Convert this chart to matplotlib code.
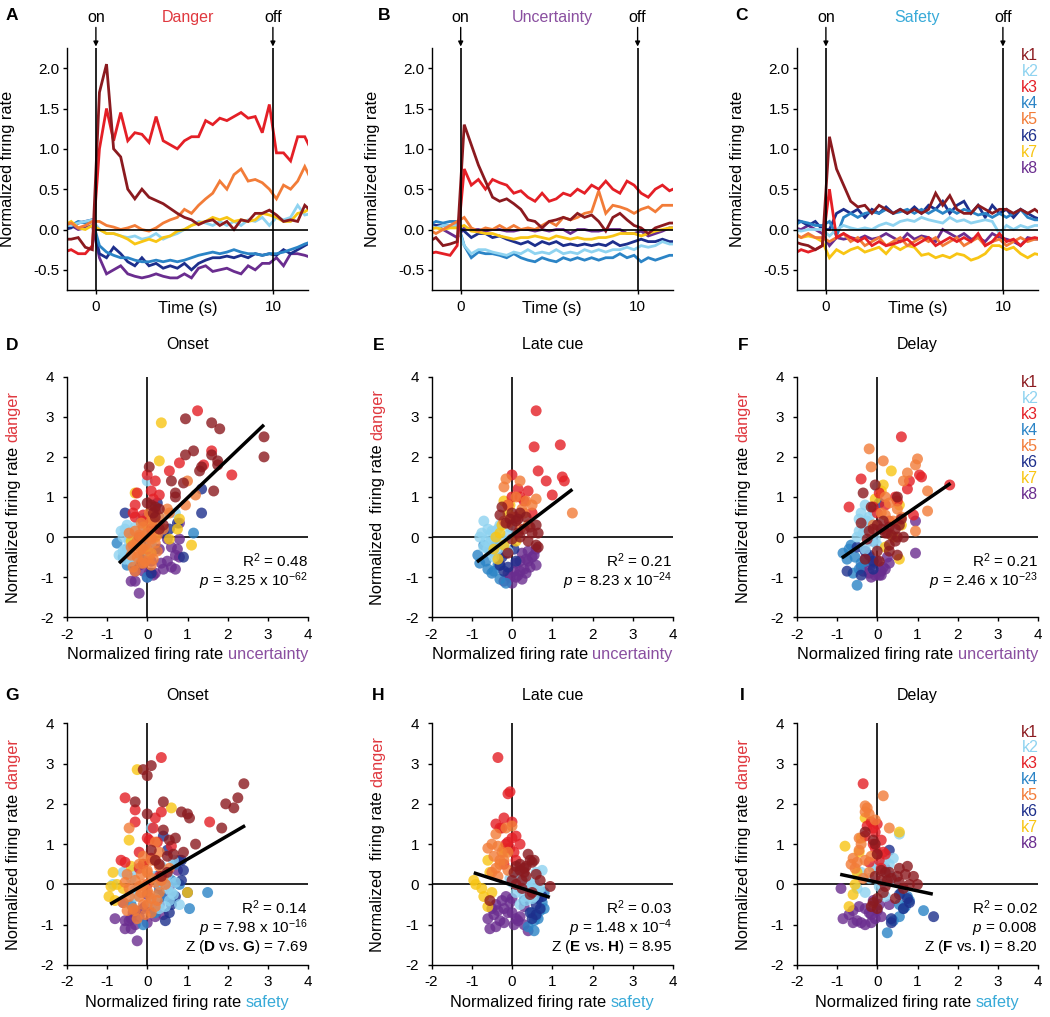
import numpy as np
import matplotlib
matplotlib.use("Agg")
import matplotlib.pyplot as plt
from matplotlib.ticker import FormatStrFormatter
from matplotlib.transforms import offset_copy

plt.rcParams["font.family"] = "Liberation Sans"
plt.rcParams["mathtext.fontset"] = "custom"
plt.rcParams["mathtext.rm"] = "Liberation Sans"
plt.rcParams["mathtext.it"] = "Liberation Sans:italic"
plt.rcParams["mathtext.bf"] = "Liberation Sans:bold"
plt.rcParams["mathtext.default"] = "regular"
plt.rcParams["axes.unicode_minus"] = False

FS_TICK = 11
FS_LAB = 11.8
FS_TXT = 11.5
FS_STAT = 11

# cluster names / colours
clusters = ["k1", "k2", "k3", "k4", "k5", "k6", "k7", "k8"]
colors = ["#8b1a1f", "#8fd3f0", "#e41f26", "#2b84c6", "#f27c38", "#1d2f8c", "#f8c514", "#6a2d8f"]
c_danger, c_unc, c_safe = "#e0383f", "#8a4fa0", "#38aad8"

# time bins (s) for the PSTH panels
time = np.round(np.arange(-1.8, 12.3, 0.4), 1)

# A: danger cue, normalized firing rate per cluster
danger_trace = [
    [-0.12,-0.12,-0.1,-0.22,-0.25,1.7, 2.05,1.0,0.9,0.5,0.38,0.5, 0.4,0.36,0.32,0.26,0.2,0.15, 0.12,0.06,0.1,0.12,0.05,0.1, 0.0,0.12,0.1,0.2,0.2,0.24, 0.18,0.1,0.12,0.1,0.3,0.22],
    [0.05,0.05,0.08,0.1,0.12,0.0, -0.05,-0.05,-0.08,-0.1,-0.08,-0.12, -0.1,-0.05,-0.12,-0.08,-0.05,0.0, 0.05,0.1,0.08,0.05,0.1,0.05, 0.1,0.05,0.12,0.1,0.15,0.05, 0.15,0.12,0.15,0.3,0.18,0.2],
    [-0.28,-0.25,-0.3,-0.3,-0.2,1.0, 1.5,1.1,1.45,1.1,1.2,1.18, 1.08,1.4,1.1,1.05,1.0,1.1, 1.15,1.15,1.35,1.3,1.38,1.35, 1.4,1.45,1.38,1.4,1.2,1.55, 0.95,0.95,0.85,1.15,1.15,0.97],
    [0.05,0.05,0.1,0.08,0.12,-0.2, -0.28,-0.32,-0.35,-0.35,-0.38,-0.4, -0.4,-0.38,-0.4,-0.38,-0.4,-0.38, -0.35,-0.32,-0.3,-0.28,-0.3,-0.28, -0.25,-0.28,-0.3,-0.3,-0.32,-0.3, -0.3,-0.28,-0.25,-0.22,-0.18,-0.15],
    [0.05,0.08,0.02,0.05,0.1,0.1, 0.05,0.03,0.0,0.02,0.05,0.0, -0.02,0.02,0.08,0.12,0.15,0.25, 0.2,0.3,0.38,0.45,0.6,0.5, 0.68,0.75,0.6,0.62,0.58,0.5, 0.38,0.55,0.5,0.6,0.78,0.6],
    [0.0,0.02,0.08,0.1,0.12,-0.3, -0.35,-0.22,-0.3,-0.4,-0.45,-0.35, -0.45,-0.42,-0.48,-0.45,-0.48,-0.42, -0.5,-0.42,-0.38,-0.35,-0.35,-0.33, -0.35,-0.32,-0.35,-0.3,-0.32,-0.3, -0.32,-0.25,-0.3,-0.25,-0.2,-0.15],
    [0.05,0.1,0.02,0.0,0.05,0.0, -0.05,-0.05,-0.08,-0.12,-0.18,-0.15, -0.12,-0.15,-0.1,-0.08,-0.02,0.0, 0.05,0.08,0.1,0.15,0.12,0.15, 0.1,0.12,0.1,0.12,0.2,0.18, 0.15,0.1,0.1,0.2,0.22,0.28],
    [-0.02,0.05,0.0,0.02,0.05,-0.35, -0.55,-0.5,-0.45,-0.55,-0.58,-0.6, -0.58,-0.55,-0.58,-0.6,-0.6,-0.55, -0.6,-0.48,-0.45,-0.52,-0.5,-0.48, -0.52,-0.55,-0.45,-0.5,-0.42,-0.42, -0.35,-0.45,-0.3,-0.3,-0.32,-0.35],
]

# B: uncertainty cue
uncertainty_trace = [
    [-0.15,-0.1,-0.2,-0.18,-0.15,1.3, 1.05,0.8,0.6,0.4,0.35,0.38, 0.32,0.25,0.12,0.1,0.02,0.1, 0.12,0.15,0.12,0.2,0.15,0.18, 0.1,-0.02,0.15,0.2,0.12,0.05, 0.02,-0.05,0.02,0.05,0.08,0.08],
    [0.05,0.02,0.05,0.05,0.05,-0.2, -0.3,-0.25,-0.25,-0.28,-0.3,-0.32, -0.28,-0.3,-0.25,-0.3,-0.28,-0.3, -0.25,-0.3,-0.28,-0.3,-0.25,-0.28, -0.25,-0.28,-0.25,-0.25,-0.22,-0.25, -0.2,-0.22,-0.2,-0.15,-0.18,-0.18],
    [-0.3,-0.28,-0.3,-0.32,-0.2,0.75, 0.55,0.62,0.5,0.62,0.58,0.55, 0.45,0.48,0.4,0.35,0.45,0.35, 0.38,0.45,0.42,0.5,0.45,0.55, 0.5,0.6,0.5,0.45,0.6,0.55, 0.45,0.4,0.5,0.55,0.48,0.52],
    [0.05,0.1,0.08,0.1,0.1,-0.2, -0.35,-0.28,-0.3,-0.3,-0.32,-0.35, -0.3,-0.35,-0.38,-0.4,-0.35,-0.38, -0.4,-0.35,-0.38,-0.35,-0.38,-0.35, -0.38,-0.35,-0.35,-0.3,-0.35,-0.32, -0.4,-0.35,-0.38,-0.35,-0.32,-0.32],
    [0.0,-0.05,0.0,0.05,0.1,0.15, 0.02,-0.02,0.02,0.0,0.05,0.0, 0.05,0.0,0.02,0.0,0.05,0.1, 0.05,0.15,0.12,0.15,0.2,0.22, 0.48,0.2,0.3,0.28,0.25,0.2, 0.25,0.28,0.22,0.3,0.3,0.3],
    [0.05,0.05,0.05,0.05,0.05,-0.02, -0.1,-0.05,-0.05,-0.1,-0.08,-0.12, -0.15,-0.18,-0.15,-0.2,-0.15,-0.18, -0.15,-0.2,-0.18,-0.2,-0.18,-0.2, -0.18,-0.2,-0.15,-0.2,-0.18,-0.15, -0.12,-0.15,-0.15,-0.12,-0.15,-0.15],
    [0.0,0.02,0.0,0.02,0.02,0.05, -0.02,-0.03,-0.05,-0.05,-0.08,-0.1, -0.12,-0.1,-0.1,-0.08,-0.1,-0.12, -0.08,-0.1,-0.12,-0.1,-0.12,-0.12, -0.1,-0.1,-0.08,-0.05,-0.05,-0.05, -0.08,-0.05,-0.02,0.0,0.02,0.02],
    [0.0,0.05,0.0,-0.05,-0.1,0.02, 0.0,0.0,-0.02,0.0,0.0,-0.02, -0.02,0.0,0.0,-0.02,0.0,-0.02, 0.0,0.0,-0.05,0.0,0.0,-0.02, -0.02,0.0,0.0,0.0,-0.05,-0.05, -0.02,-0.08,-0.05,-0.02,0.02,0.02],
]

# C: safety cue
safety_trace = [
    [-0.15,-0.18,-0.2,-0.25,-0.2,1.15, 0.75,0.55,0.35,0.28,0.3,0.2, 0.3,0.25,0.2,0.25,0.2,0.25, 0.2,0.25,0.45,0.3,0.42,0.25, 0.2,0.2,0.3,0.25,0.2,0.25, 0.25,0.2,0.25,0.2,0.25,0.18],
    [0.0,-0.02,0.0,0.0,0.0,-0.08, 0.0,0.05,0.02,0.0,0.02,0.0, 0.05,0.08,0.05,0.1,0.12,0.1, 0.15,0.12,0.1,0.08,0.15,0.1, 0.12,0.08,0.1,0.12,0.1,-0.05, 0.05,0.0,0.05,0.02,0.05,0.05],
    [-0.3,-0.25,-0.28,-0.25,-0.2,0.5, -0.1,-0.05,-0.1,-0.15,-0.1,-0.2, -0.15,-0.2,-0.18,-0.15,-0.12,-0.2, -0.15,-0.1,-0.2,-0.15,-0.1,-0.15, -0.1,-0.15,-0.05,-0.2,-0.15,-0.05, -0.15,-0.12,-0.2,-0.12,-0.1,-0.12],
    [0.05,0.1,0.08,0.05,0.05,0.1, -0.08,0.15,0.2,0.15,0.2,0.22, 0.2,0.25,0.2,0.22,0.25,0.2, 0.25,0.2,0.25,0.2,0.25,0.2, 0.25,0.22,0.18,0.2,0.15,0.2, 0.15,0.2,0.25,0.15,0.12,0.12],
    [-0.05,-0.1,-0.05,-0.1,-0.1,-0.15, -0.1,-0.05,-0.15,-0.1,-0.2,-0.15, -0.1,-0.2,-0.15,-0.1,-0.2,-0.15, -0.1,-0.15,-0.1,-0.2,-0.15,-0.1, -0.2,-0.15,-0.1,-0.2,-0.15,-0.12, -0.2,-0.15,-0.1,-0.15,-0.12,-0.12],
    [0.12,0.1,0.05,0.1,0.0,0.0, 0.2,0.25,0.2,0.25,0.15,0.25, 0.2,0.28,0.2,0.25,0.2,0.28, 0.2,0.3,0.25,0.35,0.2,0.3, 0.35,0.2,0.3,0.15,0.3,0.2, 0.25,0.15,0.25,0.2,0.15,0.12],
    [-0.05,-0.1,-0.08,-0.1,-0.15,-0.35, -0.25,-0.3,-0.25,-0.22,-0.28,-0.25, -0.22,-0.3,-0.2,-0.25,-0.2,-0.22, -0.32,-0.3,-0.35,-0.32,-0.35,-0.3, -0.32,-0.38,-0.35,-0.3,-0.2,-0.2, -0.25,-0.22,-0.3,-0.35,-0.3,-0.32],
    [0.02,0.0,0.05,0.0,-0.05,-0.2, -0.1,-0.12,-0.1,-0.12,-0.08,-0.12, -0.1,-0.05,-0.1,-0.15,-0.05,-0.12, -0.08,-0.1,-0.15,0.0,-0.05,-0.1, -0.05,-0.12,-0.1,-0.15,-0.05,-0.1, -0.12,-0.15,-0.2,-0.1,-0.12,-0.12],
]

# scatter data: per cluster, (danger, uncertainty, safety) normalized rate per neuron
onset_points = [
    [(2.95,0.95,0.1),(2.85,1.6,-0.1),(2.7,1.8,0.0),(2.5,2.9,2.4),(2.0,2.9,1.95),(2.15,1.15,2.25),(1.9,1.75,2.15),
     (2.05,0.95,0.4),(2.05,1.6,-0.3),(1.8,1.75,0.85),(1.75,0.05,1.0),(1.65,1.3,1.05),(1.75,1.35,0.0),(1.4,0.6,1.85),
     (1.35,0.9,0.4),(1.15,1.65,0.7),(1.1,0.7,0.55),(1.0,0.7,1.2),(0.85,0.0,0.1),(0.8,0.1,0.9),(0.75,0.2,0.65),
     (0.7,0.3,0.5),(0.5,0.2,0.3),(0.6,0.15,0.2),(0.3,0.4,0.5),(0.2,0.3,0.35)],
    [(1.4,0.0,0.1),(0.3,-0.5,-0.6),(0.25,-0.3,0.5),(0.0,-0.6,-0.85),(-0.1,-0.45,0.5),(-0.2,-0.2,0.6),(-0.3,-0.55,-0.3),
     (-0.45,-0.7,0.1),(-0.5,-0.35,0.8),(-0.6,-0.4,0.3),(0.1,-0.1,0.45),(0.5,0.3,-0.1),(0.6,0.7,0.65),(-0.15,0.1,-0.3),
     (0.15,-0.65,-0.4),(-0.4,0.05,0.55),(0.0,-0.25,0.3),(-0.25,-0.4,0.65),(0.45,-0.15,0.35),(-0.55,-0.55,0.45),
     (0.2,-0.55,0.15),(-0.35,-0.6,0.2),(0.35,-0.05,-0.35),(0.05,-0.45,0.7)],
    [(3.15,1.25,0.35),(2.15,1.6,-0.55),(1.55,2.1,1.55),(1.8,1.4,0.35),(1.85,0.8,-0.3),(1.65,0.55,0.2),(1.55,0.0,-0.3),
     (1.4,0.2,0.15),(1.15,0.1,0.0),(1.1,-0.25,0.05),(1.05,0.3,0.25),(0.95,0.15,0.6),(0.8,-0.3,-0.2),(0.6,-0.35,-0.65),
     (0.55,-0.1,-0.55),(0.5,-0.3,-0.1),(0.65,0.2,0.1),(0.4,-0.1,-0.2),(0.2,0.1,0.3),(0.0,-0.2,0.0)],
    [(-0.15,-0.75,0.3),(-0.5,-0.6,-0.4),(0.1,1.15,0.6),(-0.2,-0.3,1.5),(-0.7,-0.5,0.2),(0.0,-0.4,0.8),(0.3,0.2,0.45),
     (-0.4,-0.1,0.6),(-1.0,0.0,-0.1),(-0.3,-0.5,0.35),(0.5,0.0,0.7),(-0.6,-0.2,1.05)],
    [(1.4,1.0,-0.45),(1.05,1.2,0.2),(0.8,0.95,0.3),(0.6,0.55,0.1),(0.5,0.3,-0.2),(0.3,0.3,0.0),(0.2,0.4,0.4),
     (0.1,0.0,-0.3),(0.05,-0.2,0.2),(0.0,0.1,-0.1),(-0.1,-0.25,-0.45),(-0.15,0.2,0.0),(-0.2,-0.05,0.3),(-0.3,0.0,-0.2),
     (-0.35,0.25,0.1),(-0.45,-0.4,-0.6),(-0.5,0.05,-0.1),(-0.55,0.15,0.2),(-0.65,-0.1,-0.3),(-0.7,0.1,0.1),
     (-0.75,-0.35,-0.05),(-0.85,-0.3,-0.25),(0.4,0.1,0.55),(0.7,0.5,-0.1),(0.25,-0.1,-0.5),(-0.25,-0.4,0.05),
     (-0.6,-0.05,-0.35),(0.15,-0.3,0.1),(-0.05,0.1,-0.2),(0.35,-0.15,0.0),(-0.4,-0.2,0.25),(0.05,0.25,-0.55),
     (-0.2,-0.35,-0.15),(0.45,0.15,0.3),(-0.65,-0.15,-0.5),(0.6,0.05,0.2),(0.1,-0.45,0.35),(-0.3,-0.15,-0.45),
     (0.25,0.15,-0.15),(-0.5,-0.25,0.0),(0.0,-0.1,0.45)],
    [(1.2,1.35,0.4),(0.6,1.35,0.85),(0.6,-0.55,0.8),(0.85,0.25,0.5),(0.35,0.75,0.9),(-0.5,0.9,0.6),(0.1,0.4,0.85),
     (-0.3,0.2,0.7),(-0.7,-0.3,0.55),(-0.2,-0.1,1.0),(-0.9,0.1,0.45),(0.2,0.55,0.25)],
    [(2.85,0.35,-0.25),(1.9,0.3,0.6),(1.1,-0.3,-0.45),(-0.2,1.1,1.0),(0.2,0.75,0.35),(0.45,0.8,-0.4),(-0.05,0.55,-0.9),
     (0.3,0.0,-0.85),(-0.1,-0.4,-0.6),(0.0,0.2,-0.75),(-0.4,0.1,-0.8),(0.5,0.1,-0.1),(-0.3,-0.1,-0.95)],
    [(-1.1,-0.4,-0.55),(-1.4,-0.2,-0.25),(-1.0,0.0,-0.3),(-0.95,0.15,0.0),(-0.75,0.6,0.4),(-0.5,0.8,0.3),(-0.3,0.75,0.6),
     (-0.05,0.8,0.55),(0.35,0.8,0.75),(-0.05,0.5,0.3),(-0.45,0.7,-0.6),(-0.6,0.5,-0.1),(-0.85,-0.3,-0.4),(-0.85,-0.1,-0.8),
     (-0.9,0.2,-0.55),(-0.8,0.4,-0.2),(-0.6,0.1,0.1),(-0.3,0.3,0.5),(-0.7,-0.2,-0.35),(-0.25,0.6,0.0),
     (-0.9,0.05,-0.45),(-0.65,0.35,-0.3),(-0.8,0.7,0.2),(-0.55,-0.1,-0.05),(-1.1,-0.3,-0.4)],
]

late_points = [
    [(0.75,-0.25,0.4),(0.55,-0.3,0.5),(0.35,-0.15,0.2),(0.6,0.0,0.55),(0.4,0.1,0.3),(0.2,0.3,0.35),(0.1,0.5,0.0),
     (0.1,0.65,0.25),(-0.2,0.6,0.5),(-0.05,0.0,0.95),(0.6,0.2,0.45),(0.5,0.35,0.2),(0.3,0.0,0.05),(0.0,0.2,0.1),
     (-0.4,-0.1,-0.55),(0.25,0.45,0.6),(0.45,0.15,0.1),(-0.25,0.65,0.45),(0.3,0.6,0.3),(0.1,0.15,0.7),
     (-0.1,0.4,0.25),(0.45,-0.05,0.35)],
    [(0.1,-0.75,0.2),(0.2,-0.6,0.3),(0.0,-0.4,0.5),(-0.2,-0.2,0.1),(-0.4,-0.5,0.35),(0.3,-0.3,0.6),(-0.1,-0.65,0.7),
     (0.05,-0.1,0.0),(-0.3,-0.35,0.55),(0.15,-0.5,-0.05),(-0.05,-0.25,0.4),(-0.5,-0.45,0.2),(0.35,-0.2,0.75),
     (-0.25,-0.7,0.45),(0.25,-0.05,0.15),(-0.15,-0.55,0.65),(0.4,-0.7,0.3),(-0.35,-0.1,0.5),(0.0,-0.8,0.25),
     (-0.1,-0.45,0.2),(0.2,-0.35,0.1),(-0.3,-0.6,0.3),(0.05,-0.55,0.55)],
    [(3.15,0.6,-0.35),(2.25,0.55,-0.1),(2.3,1.2,-0.05),(1.65,0.65,-0.2),(1.5,1.25,-0.4),(1.4,1.3,-0.3),(1.4,0.85,-0.25),
     (1.05,1.0,-0.1),(1.15,0.4,0.0),(1.2,0.15,0.1),(1.55,0.0,0.0),(1.0,0.0,0.2),(0.9,0.3,-0.05),(0.6,0.5,0.1),
     (1.0,0.2,-0.15),(0.8,-0.1,0.05),(0.5,0.1,-0.2)],
    [(-0.45,-0.85,0.75),(-0.65,-0.8,0.7),(-0.8,-0.6,0.6),(-0.9,-0.5,0.55),(-1.05,-0.3,0.4),(-1.15,-0.15,0.55),
     (-0.6,-0.65,0.8),(-0.3,-0.55,0.75),(-0.7,-0.35,0.5),(-0.2,-0.7,0.8),(-0.85,-0.45,0.65)],
    [(1.45,-0.15,0.0),(1.25,-0.2,-0.4),(1.4,0.2,-0.15),(0.6,1.5,-0.3),(0.95,0.6,-0.35),(0.8,0.5,-0.1),(0.7,0.25,-0.45),
     (0.8,-0.1,-0.25),(0.3,0.4,-0.5),(0.5,0.0,-0.3),(0.6,0.3,-0.2),(0.4,-0.2,-0.4),(1.0,0.1,-0.5),(0.2,0.2,-0.35),
     (0.35,-0.1,-0.1),(0.9,0.35,-0.6)],
    [(-0.2,-0.4,0.55),(-0.5,-0.25,0.6),(-0.3,0.05,0.75),(-0.75,-0.1,0.6),(-0.7,-0.3,0.45),(-0.4,-0.15,0.3),
     (-0.6,0.1,0.7),(-0.85,-0.2,0.5),(-0.35,-0.5,0.65)],
    [(0.9,-0.2,-0.2),(0.1,-0.3,-0.95),(0.0,-0.4,-0.9),(0.6,-0.1,-0.6),(0.3,-0.25,-0.55),(-0.55,-0.35,-0.6),
     (-0.3,-0.45,-0.7),(-0.2,-0.2,-0.5),(0.8,-0.05,-0.2),(-0.1,0.1,-0.75)],
    [(-1.15,0.0,0.4),(-1.1,-0.2,-0.55),(-1.0,0.1,0.3),(-0.8,0.3,0.2),(-0.5,0.5,-0.4),(-0.3,0.6,-0.15),(-0.6,0.4,-0.2),
     (-0.7,-0.3,0.0),(-0.6,0.2,-0.5),(-0.9,-0.1,-0.3),(-0.95,0.15,-0.2),(-0.75,0.45,-0.45),(-0.85,0.05,0.1),
     (-0.4,0.25,-0.25),(-1.05,0.25,-0.4),(-0.65,0.1,-0.35),(-0.9,0.35,0.15),(-0.45,0.55,-0.05),
     (-0.85,0.2,-0.6),(-1.0,-0.05,0.05),(-0.55,0.35,0.3),(-0.7,0.6,-0.1),(-0.35,0.4,0.0)],
]

delay_points = [
    [(1.1,-0.35,-0.1),(1.3,-0.05,-0.3),(1.0,0.5,-0.05),(0.75,-0.15,0.0),(0.35,-0.4,0.1),(0.3,0.0,0.3),(0.2,0.1,0.5),
     (0.25,0.3,0.7),(0.0,0.5,1.0),(0.3,0.55,0.2),(0.0,0.65,0.8),(-0.35,0.0,0.45),(-0.35,0.3,0.0),(-0.45,0.5,-0.1),
     (0.45,0.6,0.75),(0.1,0.2,0.1),(-0.55,-0.3,-0.15),(-0.6,0.05,0.0),(0.15,-0.2,0.35),(0.05,0.35,0.55),
     (-0.1,0.45,0.65),(0.2,-0.1,0.9),(0.1,0.25,0.25),(-0.2,0.3,0.15),(0.4,0.15,0.55),(-0.05,-0.25,0.2),
     (0.2,0.45,-0.05)],
    [(0.8,-0.3,0.0),(0.6,-0.4,0.2),(0.5,-0.2,0.3),(0.3,-0.1,-0.4),(0.1,-0.35,0.45),(-0.2,0.0,-0.3),(0.0,-0.5,0.1),
     (0.4,-0.25,-0.1),(0.2,0.1,0.35),(-0.1,-0.15,-0.5),(1.25,0.0,0.55),(0.65,-0.1,0.4),(-0.3,-0.3,0.2),(0.15,-0.45,-0.2),
     (0.45,-0.45,0.0),(0.25,-0.3,0.25),(-0.05,-0.05,0.05)],
    [(2.5,0.6,-0.35),(1.45,-0.4,-0.25),(1.55,1.05,-0.15),(1.5,1.1,0.0),(1.4,0.8,-0.1),(1.2,0.75,-0.3),(1.3,1.8,-0.05),
     (1.1,0.05,0.1),(0.75,-0.7,0.2),(0.75,-0.1,0.0),(0.9,0.5,-0.05),(0.8,0.2,0.15),(0.55,0.9,-0.2),(1.0,0.45,-0.1),
     (0.6,0.0,0.05),(0.4,0.3,0.1)],
    [(-0.4,-0.85,0.8),(-0.55,-0.75,0.7),(-0.2,-0.65,0.6),(-1.2,-0.5,0.25),(-0.9,-0.6,0.4),(-0.65,-0.4,1.15),
     (-0.5,-0.55,0.55),(-0.8,-0.45,0.55),(-0.3,-0.7,0.75),(-0.6,-0.3,0.65)],
    [(2.2,-0.2,0.15),(1.9,0.15,-0.25),(1.75,-0.15,-0.2),(1.95,1.0,-0.3),(1.8,0.95,-0.3),(1.6,0.75,-0.05),(1.4,0.65,0.3),
     (1.15,1.25,-0.45),(0.65,1.25,-0.6),(0.15,0.95,-0.35),(0.55,0.2,-0.5),(0.6,0.1,-0.3),(0.85,0.3,-0.45),
     (0.4,0.4,-0.55),(1.0,0.2,-0.4),(0.3,-0.1,-0.2),(0.7,0.5,-0.15),(0.5,0.6,-0.65)],
    [(-0.85,-0.75,0.35),(-0.8,-0.1,1.4),(0.85,0.05,0.3),(-0.95,-0.4,0.35),(-0.35,-0.3,0.75),(-0.45,-0.2,0.8),
     (-0.6,-0.1,0.65),(-0.25,-0.5,0.55)],
    [(1.65,0.35,-0.3),(1.3,0.15,0.55),(0.95,-0.05,-0.8),(0.8,0.55,-0.45),(0.0,0.4,-0.55),(-0.25,0.2,-0.6),
     (-0.55,0.55,-0.7),(0.3,0.6,-0.5),(1.15,0.1,-0.4)],
    [(-0.1,-0.1,-0.9),(-0.75,-0.4,-0.7),(-0.9,-0.2,-0.5),(-0.95,-0.05,-0.4),(-0.6,0.0,-0.3),(-0.8,0.2,0.1),
     (-0.5,0.25,0.3),(-0.7,-0.15,-0.2),(-0.85,0.1,-0.05),(-1.0,-0.15,-0.3),(-0.4,0.95,-0.1),(-0.65,0.3,0.0),
     (-0.55,-0.3,-0.45),(0.4,0.95,0.2),(-0.95,0.05,-0.6),(-0.75,0.15,-0.15),(-0.85,-0.35,-0.85),
     (-0.65,-0.15,-0.6),(-0.95,0.1,-0.15),(-0.5,-0.2,0.05)],
]

# regression line end points (x pair, y pair) for D..I
fit_D = ([-0.7, 2.9], [-0.65, 2.8])
fit_E = ([-0.87, 1.5], [-0.62, 1.19])
fit_F = ([-0.88, 1.82], [-0.52, 1.34])
fit_G = ([-0.92, 2.43], [-0.49, 1.46])
fit_H = ([-0.95, 0.94], [0.29, -0.32])
fit_I = ([-0.92, 1.38], [0.25, -0.24])

stats_D = ["R$^2$ = 0.48", "$\\mathit{p}$ = 3.25 x 10$^{-62}$"]
stats_E = ["R$^2$ = 0.21", "$\\mathit{p}$ = 8.23 x 10$^{-24}$"]
stats_F = ["R$^2$ = 0.21", "$\\mathit{p}$ = 2.46 x 10$^{-23}$"]
stats_G = ["R$^2$ = 0.14", "$\\mathit{p}$ = 7.98 x 10$^{-16}$", "Z ($\\mathbf{D}$ vs. $\\mathbf{G}$) = 7.69"]
stats_H = ["R$^2$ = 0.03", "$\\mathit{p}$ = 1.48 x 10$^{-4}$", "Z ($\\mathbf{E}$ vs. $\\mathbf{H}$) = 8.95"]
stats_I = ["R$^2$ = 0.02", "$\\mathit{p}$ = 0.008", "Z ($\\mathbf{F}$ vs. $\\mathbf{I}$) = 8.20"]

W, H = 1050, 1017
fig = plt.figure(figsize=(W / 100, H / 100), dpi=100)


def add_ax(left, top, right, bottom):
    return fig.add_axes([left / W, 1 - bottom / H, (right - left) / W, (bottom - top) / H])


def style(ax, ypad):
    for s in ["top", "right"]:
        ax.spines[s].set_visible(False)
    for s in ["left", "bottom"]:
        ax.spines[s].set_linewidth(1.0)
    ax.tick_params(direction="out", length=3, width=1.0, labelsize=FS_TICK)
    ax.tick_params(axis="x", pad=4.5)
    ax.tick_params(axis="y", pad=ypad)


def colored_label(ax, parts, x, y, vertical):
    # multi-colour axis label, centred on (x, y) in axes coords
    texts = []
    for s, c in parts:
        t = ax.text(x, y, s, color=c, fontsize=FS_LAB, transform=ax.transAxes,
                    rotation=90 if vertical else 0,
                    ha="center" if vertical else "left",
                    va="bottom" if vertical else "center_baseline")
        texts.append(t)
    r = fig.canvas.get_renderer()
    lens = [(t.get_window_extent(r).height if vertical else t.get_window_extent(r).width) for t in texts]
    gap = 0.28 * FS_LAB * 100 / 72
    off = -(sum(lens) + gap * (len(lens) - 1)) / 2
    for t, L in zip(texts, lens):
        if vertical:
            t.set_transform(offset_copy(ax.transAxes, fig=fig, x=0, y=off, units="dots"))
        else:
            t.set_transform(offset_copy(ax.transAxes, fig=fig, x=off, y=0, units="dots"))
        off += L + gap


def legend(ax, y0, step):
    for i, (name, c) in enumerate(zip(clusters, colors)):
        ax.text(1.0, y0 - i * step, name, color=c, fontsize=FS_TXT, ha="right", va="center",
                transform=ax.transAxes)


col_x = [(66.7, 308.3), (431.5, 673.0), (796.7, 1038.3)]
line_order = [7, 5, 3, 1, 6, 4, 2, 0]

# ---- top row: PSTHs
top_axes = []
for (l, r), traces, title, tc in zip(col_x, [danger_trace, uncertainty_trace, safety_trace],
                                     ["Danger", "Uncertainty", "Safety"], [c_danger, c_unc, c_safe]):
    ax = add_ax(l, 48, r, 290)
    style(ax, 2)
    for i in line_order:
        ax.plot(time, traces[i], color=colors[i], lw=2.0, solid_joinstyle="miter")
    ax.set_xlim(-1.65, 12)
    ax.set_ylim(-0.75, 2.25)
    ax.axvline(0, color="k", lw=1.2)
    ax.axvline(10, color="k", lw=1.2)
    ax.hlines(0, 0, 12, color="k", lw=1.2)
    ax.set_xticks([0, 10])
    ax.set_yticks([-0.5, 0, 0.5, 1.0, 1.5, 2.0])
    ax.yaxis.set_major_formatter(FormatStrFormatter("%.1f"))
    ax.text(0.5, -0.078, "Time (s)", fontsize=FS_LAB, ha="center", va="center", transform=ax.transAxes)
    ax.text(0.5, 1.124, title, color=tc, fontsize=FS_TXT, ha="center", va="center", transform=ax.transAxes)
    xt = ax.get_xaxis_transform()
    for t, lab in [(0, "on"), (10, "off")]:
        ax.text(t, 1.124, lab, fontsize=FS_TXT, ha="center", va="center", transform=xt)
        ax.annotate("", xy=(t, 1.006), xycoords=xt, xytext=(t, 1.085), textcoords=xt,
                    arrowprops=dict(arrowstyle="-|>", color="k", lw=1.0, mutation_scale=7,
                                    shrinkA=0, shrinkB=0), annotation_clip=False)
    ax.set_ylabel("Normalized firing rate", fontsize=FS_LAB)
    ax.yaxis.set_label_coords(-0.215, 0.5)
    top_axes.append(ax)
legend(top_axes[2], 0.971, 0.067)

# ---- scatter rows
scatter_order = [7, 3, 5, 1, 6, 2, 4, 0]
rows = [
    (376.7, 617.3, 1, c_unc, "uncertainty", 1.132,
     [(onset_points, "Onset", fit_D, stats_D, "Normalized firing rate"),
      (late_points, "Late cue", fit_E, stats_E, "Normalized  firing rate"),
      (delay_points, "Delay", fit_F, stats_F, "Normalized firing rate")]),
    (723.3, 965.0, 2, c_safe, "safety", 1.117,
     [(onset_points, "Onset", fit_G, stats_G, "Normalized firing rate"),
      (late_points, "Late cue", fit_H, stats_H, "Normalized  firing rate"),
      (delay_points, "Delay", fit_I, stats_I, "Normalized firing rate")]),
]
scatter_axes = []
for top, bottom, xi, xc, xword, ttl_y, panels in rows:
    for (l, r), (pts, ttl, fit, stats, ypre) in zip(col_x, panels):
        ax = add_ax(l, top, r, bottom)
        style(ax, 6)
        ax.set_xlim(-2, 4)
        ax.set_ylim(-2, 4)
        ax.axvline(0, color="k", lw=1.2, zorder=1)
        ax.axhline(0, color="k", lw=1.2, zorder=1)
        for i in scatter_order:
            arr = np.array(pts[i])
            ax.scatter(arr[:, xi], arr[:, 0], s=62, color=colors[i], alpha=0.8,
                       edgecolors="none", zorder=2)
        ax.plot(fit[0], fit[1], color="k", lw=2.5, zorder=3, solid_capstyle="butt")
        ax.set_xticks(range(-2, 5))
        ax.set_yticks(range(-2, 5))
        ax.text(0.5, ttl_y, ttl, fontsize=FS_TXT, ha="center", va="center", transform=ax.transAxes)
        ys = [-0.55, -1.02, -1.5]
        for s, yv in zip(stats, ys):
            ax.text(3.98, yv, s, fontsize=FS_STAT, ha="right", va="center_baseline")
        colored_label(ax, [(ypre, "black"), ("danger", c_danger)], -0.222, 0.5, True)
        colored_label(ax, [("Normalized firing rate", "black"), (xword, xc)], 0.5, -0.148, False)
        scatter_axes.append(ax)

legend(scatter_axes[2], 0.974, 0.0665)
legend(scatter_axes[5], 0.964, 0.0658)

# panel letters (pixel centres)
letters = [("A", 12, 15), ("B", 384, 15), ("C", 741, 15),
           ("D", 12, 345), ("E", 379, 345), ("F", 743, 345),
           ("G", 12, 696), ("H", 378, 696), ("I", 742, 696)]
for s, x, y in letters:
    fig.text(x / W, 1 - y / H, s, fontsize=12.5, fontweight="bold", ha="center", va="center")

fig.savefig("out.png", dpi=100)
